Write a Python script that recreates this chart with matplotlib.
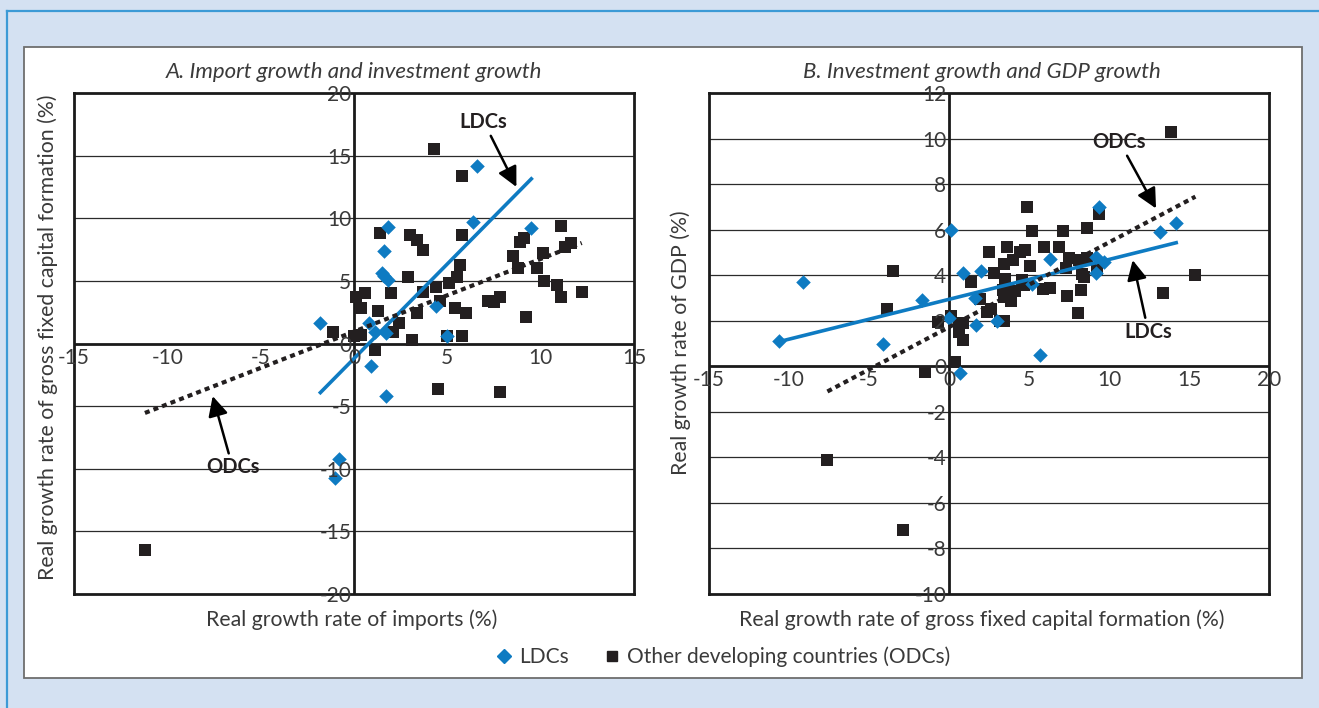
import numpy as np
import matplotlib
matplotlib.use('Agg')
import matplotlib.pyplot as plt
from matplotlib.lines import Line2D
from matplotlib.patches import Rectangle

plt.rcParams['font.family'] = ['Lato', 'DejaVu Sans']

BLUE = '#0E7BC2'
DARK = '#231F20'
TXT = '#3a3a3a'

# Panel A: imports (x) vs gross fixed capital formation (y)
ldc_a_x = [6.6, 6.4, 1.8, 9.5, 1.6, 1.5, 1.8, 1.6, 4.4, 0.8, 1.1, 1.7, 5.0, 0.9, -1.8, 1.7, -0.8, -1.0]
ldc_a_y = [14.2, 9.7, 9.3, 9.2, 7.4, 5.6, 5.1, 5.4, 3.0, 1.6, 0.9, 0.8, 0.6, -1.8, 1.6, -4.2, -9.2, -10.7]

odc_a_x = [4.3, 5.8, 1.4, 3.0, 3.4, 3.7, 5.8, 5.7, 11.1, 8.9,
           9.1, 8.5, 8.8, 10.1, 9.8, 11.3, 11.6, 10.2, 10.9, 11.1,
           12.2, 9.2, 7.2, 7.5, 7.8, 2.9, 3.7, 4.4, 5.1, 5.5,
           4.6, 5.4, 6.0, 3.4, 1.3, 2.0, 0.6, 0.1, 0.4, 2.4,
           2.1, 3.1, 5.0, 5.8, 0.4, 0.0, -1.1, 1.1, 4.5, 7.8,
           -11.2]
odc_a_y = [15.5, 13.4, 8.8, 8.7, 8.3, 7.5, 8.7, 6.3, 9.4, 8.1,
           8.4, 7.0, 6.0, 7.2, 6.0, 7.7, 8.0, 5.0, 4.7, 3.7,
           4.1, 2.1, 3.4, 3.3, 3.7, 5.3, 4.1, 4.5, 4.8, 5.3,
           3.4, 2.8, 2.4, 2.4, 2.6, 4.0, 4.0, 3.7, 2.8, 1.6,
           0.9, 0.3, 0.6, 0.6, 0.7, 0.6, 0.9, -0.5, -3.6, -3.9,
           -16.5]

# Panel B: gross fixed capital formation (x) vs GDP (y)
ldc_b_x = [-10.6, -9.1, -4.1, -1.7, 0.1, 0.7, 0.9, 1.6, 1.7, 2.0, 0.0,
           9.4, 13.2, 14.2, 6.3, 9.2, 9.7, 9.2, 3.0, 5.2, 5.7]
ldc_b_y = [1.1, 3.7, 1.0, 2.9, 6.0, -0.3, 4.1, 3.0, 1.8, 4.2, 2.1,
           7.0, 5.9, 6.3, 4.7, 4.8, 4.6, 4.1, 2.0, 3.6, 0.5]

odc_b_x = [-3.5, -3.9, -1.5, -0.7, 0.1, 0.4, 0.65, 0.9, 0.85, 0.6,
           1.4, 1.95, 13.9, 4.9, 9.4, 5.2, 7.1, 8.65, 2.5, 3.6,
           4.45, 4.75, 5.95, 6.9, 3.45, 4.0, 5.05, 7.5, 8.1, 8.6,
           7.3, 9.25, 2.8, 8.3, 8.45, 3.5, 4.55, 4.7, 5.9, 6.3,
           3.35, 3.8, 4.1, 3.9, 3.45, 2.35, 2.65, 7.4, 8.25, 8.05,
           3.2, 3.45, 13.4, 15.4, -7.6, -2.9]
odc_b_y = [4.2, 2.5, -0.25, 1.95, 2.2, 0.2, 1.75, 1.9, 1.15, 1.5,
           3.7, 2.97, 10.3, 7.0, 6.7, 5.95, 5.95, 6.05, 5.0, 5.25,
           5.0, 5.1, 5.25, 5.25, 4.5, 4.65, 4.4, 4.75, 4.65, 4.75,
           4.3, 4.25, 4.1, 4.05, 3.9, 3.85, 3.8, 3.55, 3.4, 3.45,
           3.35, 3.2, 3.3, 2.85, 3.05, 2.4, 2.5, 3.1, 3.35, 2.35,
           2.0, 2.0, 3.2, 4.0, -4.1, -7.2]

# linear trends (slope, intercept)
trend_a_ldc = (1.51, -1.2)
trend_a_odc = (0.58, 0.95)
trend_b_ldc = (0.175, 2.94)
trend_b_odc = (0.372, 1.72)

xticks_a = [-15, -10, -5, 0, 5, 10, 15]
yticks_a = [-20, -15, -10, -5, 0, 5, 10, 15, 20]
xticks_b = [-15, -10, -5, 0, 5, 10, 15, 20]
yticks_b = [-10, -8, -6, -4, -2, 0, 2, 4, 6, 8, 10, 12]

W, H = 1319, 708
fig = plt.figure(figsize=(W / 100, H / 100), dpi=100)
fig.patch.set_facecolor('#D4E1F2')

# white panel and blue frame lines
fig.patches.append(Rectangle((24 / W, 1 - 678 / H), 1278 / W, 631 / H,
                             transform=fig.transFigure, facecolor='white',
                             edgecolor='#6E6E6E', lw=1.3, zorder=-5))
fig.lines.append(Line2D([7 / W, 1], [1 - 11 / H, 1 - 11 / H], transform=fig.transFigure,
                        color='#3C9AD6', lw=1.6))
fig.lines.append(Line2D([7 / W, 7 / W], [0, 1 - 11 / H], transform=fig.transFigure,
                        color='#3C9AD6', lw=1.6))


def trend(ax, xs, coef, **kw):
    x = np.array([min(xs), max(xs)])
    ax.plot(x, coef[0] * x + coef[1], zorder=5, **kw)


def setup(ax, xt, yt):
    ax.set_xlim(xt[0], xt[-1])
    ax.set_ylim(yt[0], yt[-1])
    ax.set_xticks([])
    ax.set_yticks([])
    for s in ax.spines.values():
        s.set_linewidth(2)
        s.set_color('#1a1a1a')
    for v in yt[1:-1]:
        if v != 0:
            ax.axhline(v, color='#2b2b2b', lw=0.9, zorder=1)
    ax.axhline(0, color='#1a1a1a', lw=2, zorder=2)
    ax.axvline(0, color='#1a1a1a', lw=2, zorder=2)
    for v in xt:
        ax.annotate(str(v), xy=(v, 0), xytext=(0, -3), textcoords='offset points',
                    ha='center', va='top', fontsize=15, color=TXT, zorder=6)
    for v in yt:
        ax.annotate(str(v), xy=(0, v), xytext=(-2, 0), textcoords='offset points',
                    ha='right', va='center_baseline', fontsize=15, color=TXT, zorder=6)


def points(ax, lx, ly, ox, oy):
    ax.scatter(ox, oy, marker='s', s=70, color=DARK, lw=0, zorder=3)
    ax.scatter(lx, ly, marker='D', s=55, color=BLUE, lw=0, zorder=4)


arrow = dict(arrowstyle='-|>', color='black', lw=1.8, mutation_scale=30, shrinkA=1, shrinkB=0)
lbl = dict(fontsize=14.5, fontweight='bold', color=DARK, ha='center', va='center', zorder=7)

# Panel A
ax1 = fig.add_axes([74 / W, 1 - 594 / H, 560 / W, 501 / H])
setup(ax1, xticks_a, yticks_a)
points(ax1, ldc_a_x, ldc_a_y, odc_a_x, odc_a_y)
trend(ax1, ldc_a_x, trend_a_ldc, color=BLUE, lw=2.6)
trend(ax1, odc_a_x, trend_a_odc, color=DARK, lw=3, ls=(0, (1.2, 1)))
ax1.annotate('LDCs', xy=(8.7, 12.5), xytext=(6.95, 17.7), arrowprops=arrow, **lbl)
ax1.annotate('ODCs', xy=(-7.57, -4.2), xytext=(-6.5, -9.9), arrowprops=arrow, **lbl)

# Panel B
ax2 = fig.add_axes([709 / W, 1 - 594 / H, 560 / W, 501 / H])
setup(ax2, xticks_b, yticks_b)
points(ax2, ldc_b_x, ldc_b_y, odc_b_x, odc_b_y)
trend(ax2, ldc_b_x, trend_b_ldc, color=BLUE, lw=2.6)
trend(ax2, odc_b_x, trend_b_odc, color=DARK, lw=3, ls=(0, (1.2, 1)))
ax2.annotate('ODCs', xy=(12.94, 6.93), xytext=(10.65, 9.86), arrowprops=arrow, **lbl)
ax2.annotate('LDCs', xy=(11.48, 4.66), xytext=(12.46, 1.51), arrowprops=arrow, **lbl)

# titles and axis labels
fig.text(354 / W, 1 - 72 / H, 'A. Import growth and investment growth', style='italic',
         fontsize=16, color=TXT, ha='center', va='center')
fig.text(982 / W, 1 - 72 / H, 'B. Investment growth and GDP growth', style='italic',
         fontsize=16, color=TXT, ha='center', va='center')
fig.text(48 / W, 1 - 337 / H, 'Real growth rate of gross fixed capital formation (%)',
         rotation=90, fontsize=15.3, color=TXT, ha='center', va='center')
fig.text(681 / W, 1 - 343 / H, 'Real growth rate of GDP (%)',
         rotation=90, fontsize=15.3, color=TXT, ha='center', va='center')
fig.text(352 / W, 1 - 620 / H, 'Real growth rate of imports (%)',
         fontsize=15.3, color=TXT, ha='center', va='center')
fig.text(982 / W, 1 - 620 / H, 'Real growth rate of gross fixed capital formation (%)',
         fontsize=15.3, color=TXT, ha='center', va='center')

handles = [Line2D([], [], marker='D', color=BLUE, ls='None', ms=7),
           Line2D([], [], marker='s', color=DARK, ls='None', ms=7)]
leg = fig.legend(handles, ['LDCs', 'Other developing countries (ODCs)'], loc='center',
                 bbox_to_anchor=(722 / W, 1 - 657 / H), ncol=2, frameon=False,
                 fontsize=15, handletextpad=0.2, columnspacing=1.6, handlelength=1)
for t in leg.get_texts():
    t.set_color(TXT)

fig.savefig('out.png', dpi=100, facecolor=fig.get_facecolor())
